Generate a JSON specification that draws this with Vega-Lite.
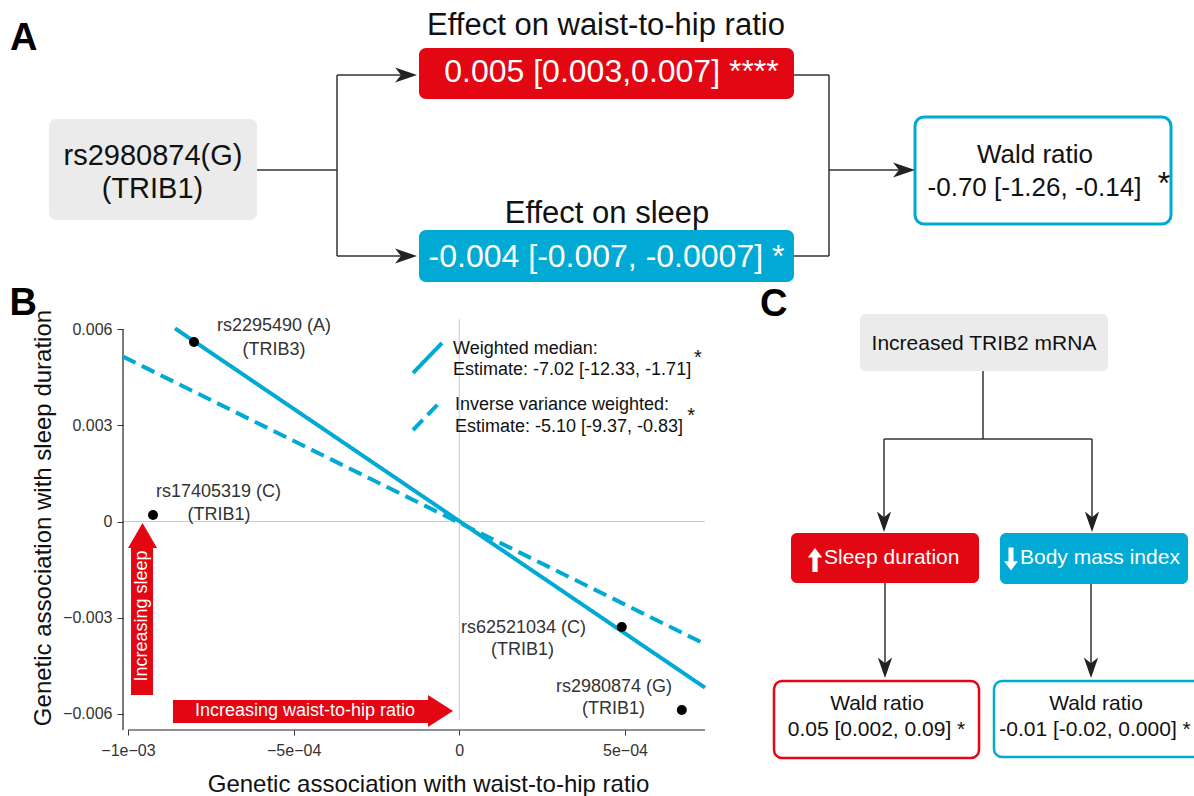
{
  "$schema": "https://vega.github.io/schema/vega-lite/v6.json",
  "padding": 0,
  "spacing": 0,
  "bounds": "flush",
  "background": "white",
  "config": {
    "view": {"stroke": null},
    "font": "Liberation Sans",
    "text": {"font": "Liberation Sans"},
    "axis": {"labelFont": "Liberation Sans", "titleFont": "Liberation Sans", "grid": false, "domain": false}
  },
  "datasets": {
    "a_lines": [
      {"x": 257, "y": 170, "x2": 337, "y2": 170},
      {"x": 337, "y": 75, "x2": 337, "y2": 256},
      {"x": 337, "y": 75, "x2": 405, "y2": 75},
      {"x": 337, "y": 256, "x2": 405, "y2": 256},
      {"x": 794, "y": 75, "x2": 829, "y2": 75},
      {"x": 794, "y": 256, "x2": 829, "y2": 256},
      {"x": 829, "y": 75, "x2": 829, "y2": 256},
      {"x": 829, "y": 170, "x2": 903, "y2": 170}
    ],
    "a_boxes": [
      {"x": 49, "x2": 257, "y": 119, "y2": 220, "kind": "exposure"},
      {"x": 419, "x2": 794, "y": 48, "y2": 99, "kind": "positive"},
      {"x": 419, "x2": 794, "y": 230, "y2": 282, "kind": "negative"}
    ],
    "a_outline": [
      {"x": 915, "x2": 1171, "y": 117, "y2": 224}
    ],
    "a_heads": [
      {"x": 417, "y": 75},
      {"x": 417, "y": 256},
      {"x": 915, "y": 170}
    ],
    "a_text": [
      {"group": "letter", "x": 10, "y": 50, "label": "A"},
      {"group": "letter", "x": 9.5, "y": 315, "label": "B"},
      {"group": "letter", "x": 760, "y": 316, "label": "C"},
      {"group": "heading", "x": 606, "y": 35, "label": "Effect on waist-to-hip ratio"},
      {"group": "heading", "x": 607, "y": 223, "label": "Effect on sleep"},
      {"group": "boxwhite", "x": 611.5, "y": 82, "label": "0.005 [0.003,0.007] ****"},
      {"group": "boxwhite", "x": 606.5, "y": 267, "label": "-0.004 [-0.007, -0.0007] *"},
      {"group": "snp", "x": 153, "y": 165, "label": "rs2980874(G)"},
      {"group": "snp", "x": 152.5, "y": 198, "label": "(TRIB1)"},
      {"group": "wald", "x": 1035, "y": 163, "label": "Wald ratio"},
      {"group": "wald", "x": 1034.5, "y": 196, "label": "-0.70 [-1.26, -0.14]"},
      {"group": "star", "x": 1164, "y": 194, "label": "*"}
    ],
    "b_ref": [
      {"x": 0, "y": -0.006187, "x2": 0, "y2": 0.006312},
      {"x": -0.001015, "y": 0, "x2": 0.0007415, "y2": 0}
    ],
    "b_axislines": [
      {"x": -0.001015, "y": 0.006, "x2": -0.001015, "y2": -0.006499},
      {"x": -0.001, "y": -0.006499, "x2": 0.0007415, "y2": -0.006499}
    ],
    "b_shafts": [
      {"x": -0.0008641, "x2": -0.0000945, "y": -0.005564, "y2": -0.006281},
      {"x": -0.0009908, "x2": -0.0009244, "y": -0.005408, "y2": -0.000826}
    ],
    "b_head_h": [
      {"x": -0.0000945, "y": -0.005408, "y2": -0.006405},
      {"x": -0.000019, "y": -0.005907, "y2": -0.005907}
    ],
    "b_head_v": [
      {"y": -0.000826, "x": -0.0009999, "x2": -0.0009123},
      {"y": -0.0000468, "x": -0.0009561, "x2": -0.0009561}
    ],
    "b_arrow_text_h": [
      {"x": -0.0004657, "y": -0.005907, "label": "Increasing waist-to-hip ratio"}
    ],
    "b_arrow_text_v": [
      {"x": -0.0009576, "y": -0.002946, "label": "Increasing sleep"}
    ],
    "b_lines": [
      {"series": "wm_fit", "method": "wm", "x": -0.000858, "y": 0.00602},
      {"series": "wm_fit", "method": "wm", "x": 0.0007415, "y": -0.00518},
      {"series": "ivw_fit", "method": "ivw", "x": -0.001015, "y": 0.00514},
      {"series": "ivw_fit", "method": "ivw", "x": 0.0007415, "y": -0.00382},
      {"series": "wm_key", "method": "wm", "x": -0.0001397, "y": 0.004629},
      {"series": "wm_key", "method": "wm", "x": -0.0000522, "y": 0.005564},
      {"series": "ivw_key", "method": "ivw", "x": -0.0001397, "y": 0.002852},
      {"series": "ivw_key", "method": "ivw", "x": -0.0000522, "y": 0.003787}
    ],
    "b_points": [
      {"snp": "rs2295490", "x": -0.0008007, "y": 0.005595},
      {"snp": "rs17405319", "x": -0.0009244, "y": 0.000203},
      {"snp": "rs62521034", "x": 0.0004904, "y": -0.003288},
      {"snp": "rs2980874", "x": 0.0006715, "y": -0.005876}
    ],
    "b_labels": [
      {"x": -0.0005592, "y": 0.006094, "label": "rs2295490 (A)"},
      {"x": -0.0005592, "y": 0.005346, "label": "(TRIB3)"},
      {"x": -0.0007267, "y": 0.000920, "label": "rs17405319 (C)"},
      {"x": -0.0007252, "y": 0.000203, "label": "(TRIB1)"},
      {"x": 0.0001938, "y": -0.003320, "label": "rs62521034 (C)"},
      {"x": 0.0001907, "y": -0.004005, "label": "(TRIB1)"},
      {"x": 0.0004669, "y": -0.005159, "label": "rs2980874 (G)"},
      {"x": 0.0004654, "y": -0.005845, "label": "(TRIB1)"}
    ],
    "b_legend": [
      {"x": -0.000019, "y": 0.005377, "label": "Weighted median:"},
      {"x": -0.000019, "y": 0.004722, "label": "Estimate: -7.02 [-12.33, -1.71]"},
      {"x": -0.000013, "y": 0.003631, "label": "Inverse variance weighted:"},
      {"x": -0.000013, "y": 0.002946, "label": "Estimate: -5.10 [-9.37, -0.83]"}
    ],
    "b_stars": [
      {"x": 0.0007204, "y": 0.005096, "label": "*"},
      {"x": 0.0006993, "y": 0.003289, "label": "*"}
    ],
    "c_lines": [
      {"x": 983, "y": 371, "x2": 983, "y2": 439},
      {"x": 884, "y": 439, "x2": 1092, "y2": 439},
      {"x": 884, "y": 439, "x2": 884, "y2": 520},
      {"x": 1092, "y": 439, "x2": 1092, "y2": 520},
      {"x": 885, "y": 583, "x2": 885, "y2": 666},
      {"x": 1091, "y": 584, "x2": 1091, "y2": 666}
    ],
    "c_boxes": [
      {"x": 860, "x2": 1108, "y": 314, "y2": 371, "kind": "exposure"},
      {"x": 791, "x2": 979, "y": 533, "y2": 583, "kind": "positive"},
      {"x": 1000, "x2": 1188, "y": 533, "y2": 584, "kind": "negative"}
    ],
    "c_outline": [
      {"x": 774, "x2": 979, "y": 681, "y2": 758, "kind": "positive"},
      {"x": 994, "x2": 1206, "y": 681, "y2": 757, "kind": "negative"}
    ],
    "c_heads": [
      {"x": 884, "y": 532},
      {"x": 1092, "y": 532},
      {"x": 885, "y": 678},
      {"x": 1091, "y": 678}
    ],
    "c_glyph_up": [
      {"x": 815, "y": 560}
    ],
    "c_glyph_down": [
      {"x": 1011, "y": 559}
    ],
    "c_text": [
      {"group": "mrna", "x": 984, "y": 350, "label": "Increased TRIB2 mRNA"},
      {"group": "white", "x": 824, "y": 564, "label": "Sleep duration"},
      {"group": "white", "x": 1020, "y": 564, "label": "Body mass index"},
      {"group": "wald", "x": 877, "y": 710, "label": "Wald ratio"},
      {"group": "wald", "x": 876.5, "y": 736, "label": "0.05 [0.002, 0.09] *"},
      {"group": "wald", "x": 1096, "y": 710, "label": "Wald ratio"},
      {"group": "wald", "x": 1095, "y": 736, "label": "-0.01 [-0.02, 0.000] *"}
    ]
  },
  "vconcat": [
    {
      "width": 1194,
      "height": 319,
      "encoding": {
        "x": {"field": "x", "type": "quantitative", "scale": {"domain": [0, 1194], "nice": false, "zero": false}, "axis": null},
        "y": {"field": "y", "type": "quantitative", "scale": {"domain": [0, 319], "nice": false, "zero": false, "reverse": true}, "axis": null}
      },
      "layer": [
        {"data": {"name": "a_lines"}, "mark": {"type": "rule", "color": "#333333", "strokeWidth": 1.5},
         "encoding": {"x2": {"field": "x2"}, "y2": {"field": "y2"}}},
        {"data": {"name": "a_boxes"}, "mark": {"type": "rect", "cornerRadius": 7},
         "encoding": {"x2": {"field": "x2"}, "y2": {"field": "y2"},
           "color": {"field": "kind", "type": "nominal", "scale": {"domain": ["exposure", "positive", "negative"], "range": ["#EBEBEB", "#E30613", "#00AAD4"]}, "legend": null}}},
        {"data": {"name": "a_outline"}, "mark": {"type": "rect", "cornerRadius": 9, "fill": "#FFFFFF", "stroke": "#00AAD4", "strokeWidth": 3},
         "encoding": {"x2": {"field": "x2"}, "y2": {"field": "y2"}}},
        {"data": {"name": "a_heads"}, "mark": {"type": "point", "shape": "M0,0 L-2,-0.68 L-1.45,0 L-2,0.68 Z", "filled": true, "size": 484, "color": "#222222", "opacity": 1, "strokeWidth": 0}},
        {"data": {"name": "a_text"}, "transform": [{"filter": "datum.group == 'letter'"}],
         "mark": {"type": "text", "fontSize": 38, "fontWeight": "bold", "align": "left", "baseline": "alphabetic", "color": "#000000"},
         "encoding": {"text": {"field": "label", "type": "nominal"}}},
        {"data": {"name": "a_text"}, "transform": [{"filter": "datum.group == 'heading'"}],
         "mark": {"type": "text", "fontSize": 31, "align": "center", "baseline": "alphabetic", "color": "#111111"},
         "encoding": {"text": {"field": "label", "type": "nominal"}}},
        {"data": {"name": "a_text"}, "transform": [{"filter": "datum.group == 'boxwhite'"}],
         "mark": {"type": "text", "fontSize": 32, "align": "center", "baseline": "alphabetic", "color": "#FFFFFF"},
         "encoding": {"text": {"field": "label", "type": "nominal"}}},
        {"data": {"name": "a_text"}, "transform": [{"filter": "datum.group == 'snp'"}],
         "mark": {"type": "text", "fontSize": 29, "align": "center", "baseline": "alphabetic", "color": "#111111"},
         "encoding": {"text": {"field": "label", "type": "nominal"}}},
        {"data": {"name": "a_text"}, "transform": [{"filter": "datum.group == 'wald'"}],
         "mark": {"type": "text", "fontSize": 26, "align": "center", "baseline": "alphabetic", "color": "#111111"},
         "encoding": {"text": {"field": "label", "type": "nominal"}}},
        {"data": {"name": "a_text"}, "transform": [{"filter": "datum.group == 'star'"}],
         "mark": {"type": "text", "fontSize": 32, "align": "center", "baseline": "alphabetic", "color": "#111111"},
         "encoding": {"text": {"field": "label", "type": "nominal"}}}
      ]
    },
    {
      "spacing": 0,
      "bounds": "flush",
      "hconcat": [
        {
          "width": 123,
          "height": 1,
          "data": {"values": [{"a": 1}]},
          "mark": {"type": "text", "text": ""}
        },
        {
          "width": 582,
          "height": 411,
          "encoding": {
            "x": {"field": "x", "type": "quantitative",
              "scale": {"domain": [-0.001015, 0.0007415], "nice": false, "zero": false},
              "axis": {"values": [-0.001, -0.0005, 0, 0.0005],
                "labelExpr": "datum.value < -0.00075 ? '\u22121e\u221203' : datum.value < -0.0001 ? '\u22125e\u221204' : datum.value < 0.0001 ? '0' : '5e\u221204'",
                "title": "Genetic association with waist-to-hip ratio",
                "domain": false, "grid": false, "ticks": true, "tickSize": 5, "tickWidth": 1, "tickColor": "#333333",
                "labelPadding": 7, "labelFontSize": 16, "labelColor": "#333333", "labelFlush": false, "labelOverlap": false, "labelBound": false,
                "titleFontSize": 24, "titleFontWeight": "normal", "titleColor": "#111111",
                "titleX": 305, "titleY": 61, "titleAlign": "center", "titleBaseline": "alphabetic"}},
            "y": {"field": "y", "type": "quantitative",
              "scale": {"domain": [-0.006499, 0.006312], "nice": false, "zero": false},
              "axis": {"values": [-0.006, -0.003, 0, 0.003, 0.006],
                "labelExpr": "abs(datum.value) < 0.0001 ? '0' : (datum.value < 0 ? '\u2212' : '') + format(abs(datum.value), '.3f')",
                "title": "Genetic association with sleep duration",
                "domain": false, "grid": false, "ticks": true, "tickSize": 6, "tickWidth": 1, "tickColor": "#333333",
                "labelPadding": 5, "labelFontSize": 16, "labelColor": "#333333", "labelFlush": false, "labelOverlap": false, "labelBound": false,
                "titleFontSize": 24, "titleFontWeight": "normal", "titleColor": "#111111",
                "titleX": -73, "titleY": 198.5, "titleAngle": 270, "titleAlign": "center", "titleBaseline": "alphabetic"}}
          },
          "layer": [
            {"data": {"name": "b_ref"}, "mark": {"type": "rule", "color": "#CCCCCC", "strokeWidth": 1},
             "encoding": {"x2": {"field": "x2"}, "y2": {"field": "y2"}}},
            {"data": {"name": "b_axislines"}, "mark": {"type": "rule", "color": "#222222", "strokeWidth": 1.2},
             "encoding": {"x2": {"field": "x2"}, "y2": {"field": "y2"}}},
            {"data": {"name": "b_shafts"}, "mark": {"type": "rect", "color": "#E30613"},
             "encoding": {"x2": {"field": "x2"}, "y2": {"field": "y2"}}},
            {"data": {"name": "b_head_h"}, "mark": {"type": "area", "color": "#E30613", "orient": "vertical"},
             "encoding": {"y2": {"field": "y2"}}},
            {"data": {"name": "b_head_v"}, "mark": {"type": "area", "color": "#E30613", "orient": "horizontal"},
             "encoding": {"x2": {"field": "x2"}}},
            {"data": {"name": "b_arrow_text_h"}, "mark": {"type": "text", "fontSize": 18, "align": "center", "baseline": "middle", "color": "#FFFFFF"},
             "encoding": {"text": {"field": "label", "type": "nominal"}}},
            {"data": {"name": "b_arrow_text_v"}, "mark": {"type": "text", "fontSize": 18, "align": "center", "baseline": "middle", "color": "#FFFFFF", "angle": 270},
             "encoding": {"text": {"field": "label", "type": "nominal"}}},
            {"data": {"name": "b_lines"}, "mark": {"type": "line", "color": "#00AAD4", "strokeWidth": 4, "strokeCap": "butt"},
             "encoding": {"detail": {"field": "series", "type": "nominal"},
               "strokeDash": {"field": "method", "type": "nominal", "scale": {"domain": ["wm", "ivw"], "range": [[1, 0], [14, 7]]}, "legend": null}}},
            {"data": {"name": "b_points"}, "mark": {"type": "point", "shape": "circle", "filled": true, "size": 100, "color": "#000000", "opacity": 1}},
            {"data": {"name": "b_labels"}, "mark": {"type": "text", "fontSize": 18, "align": "center", "baseline": "middle", "color": "#333333"},
             "encoding": {"text": {"field": "label", "type": "nominal"}}},
            {"data": {"name": "b_legend"}, "mark": {"type": "text", "fontSize": 18, "align": "left", "baseline": "middle", "color": "#111111"},
             "encoding": {"text": {"field": "label", "type": "nominal"}}},
            {"data": {"name": "b_stars"}, "mark": {"type": "text", "fontSize": 20, "align": "center", "baseline": "middle", "color": "#111111"},
             "encoding": {"text": {"field": "label", "type": "nominal"}}}
          ]
        },
        {
          "width": 489,
          "height": 477,
          "encoding": {
            "x": {"field": "x", "type": "quantitative", "scale": {"domain": [705, 1194], "nice": false, "zero": false}, "axis": null},
            "y": {"field": "y", "type": "quantitative", "scale": {"domain": [319, 796], "nice": false, "zero": false, "reverse": true}, "axis": null}
          },
          "layer": [
            {"data": {"name": "c_lines"}, "mark": {"type": "rule", "color": "#333333", "strokeWidth": 1.5},
             "encoding": {"x2": {"field": "x2"}, "y2": {"field": "y2"}}},
            {"data": {"name": "c_boxes"}, "mark": {"type": "rect", "cornerRadius": 6},
             "encoding": {"x2": {"field": "x2"}, "y2": {"field": "y2"},
               "color": {"field": "kind", "type": "nominal", "scale": {"domain": ["exposure", "positive", "negative"], "range": ["#EBEBEB", "#E30613", "#00AAD4"]}, "legend": null}}},
            {"data": {"name": "c_outline"}, "mark": {"type": "rect", "cornerRadius": 8, "fill": "#FFFFFF", "strokeWidth": 2.5, "clip": true},
             "encoding": {"x2": {"field": "x2"}, "y2": {"field": "y2"},
               "stroke": {"field": "kind", "type": "nominal", "scale": {"domain": ["positive", "negative"], "range": ["#E30613", "#00AAD4"]}, "legend": null}}},
            {"data": {"name": "c_heads"}, "mark": {"type": "point", "shape": "M0,0 L-2,-0.7 L-1.45,0 L-2,0.7 Z", "filled": true, "size": 420, "angle": 90, "color": "#222222", "opacity": 1, "strokeWidth": 0}},
            {"data": {"name": "c_glyph_up"}, "mark": {"type": "point", "shape": "M0,-1 L0.6,-0.2 L0.22,-0.2 L0.22,1 L-0.22,1 L-0.22,-0.2 L-0.6,-0.2 Z", "filled": true, "size": 576, "color": "#FFFFFF", "opacity": 1, "strokeWidth": 0}},
            {"data": {"name": "c_glyph_down"}, "mark": {"type": "point", "shape": "M0,-1 L0.6,-0.2 L0.22,-0.2 L0.22,1 L-0.22,1 L-0.22,-0.2 L-0.6,-0.2 Z", "filled": true, "size": 530, "angle": 180, "color": "#FFFFFF", "opacity": 1, "strokeWidth": 0}},
            {"data": {"name": "c_text"}, "transform": [{"filter": "datum.group == 'mrna'"}],
             "mark": {"type": "text", "fontSize": 21, "align": "center", "baseline": "alphabetic", "color": "#111111"},
             "encoding": {"text": {"field": "label", "type": "nominal"}}},
            {"data": {"name": "c_text"}, "transform": [{"filter": "datum.group == 'white'"}],
             "mark": {"type": "text", "fontSize": 21, "align": "left", "baseline": "alphabetic", "color": "#FFFFFF"},
             "encoding": {"text": {"field": "label", "type": "nominal"}}},
            {"data": {"name": "c_text"}, "transform": [{"filter": "datum.group == 'wald'"}],
             "mark": {"type": "text", "fontSize": 21, "align": "center", "baseline": "alphabetic", "color": "#111111"},
             "encoding": {"text": {"field": "label", "type": "nominal"}}}
          ]
        }
      ]
    }
  ]
}
